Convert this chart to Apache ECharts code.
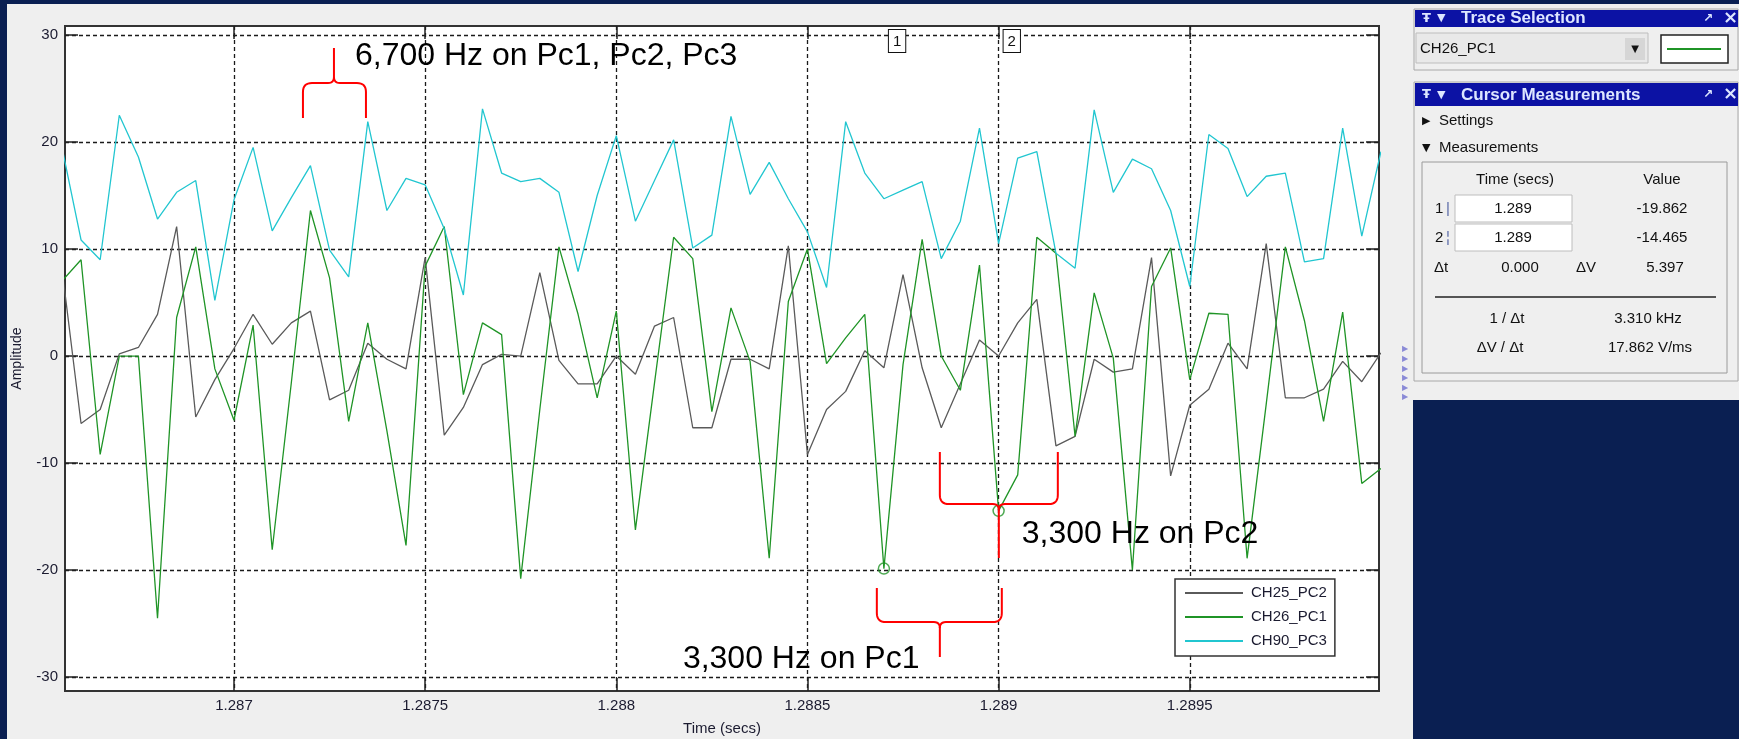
<!DOCTYPE html>
<html><head><meta charset="utf-8">
<script src="https://cdn.jsdelivr.net/npm/echarts@6/dist/echarts.min.js"></script>
<style>
html,body{margin:0;padding:0;width:1739px;height:739px;overflow:hidden;background:#0a1f52;}
#bgMain{position:absolute;left:7px;top:4px;width:1406px;height:735px;background:#efefef;}
#bgSide{position:absolute;left:1413px;top:4px;width:326px;height:396px;background:#efefef;}
#chart{position:absolute;left:0;top:0;width:1739px;height:739px;}
</style></head><body>
<div id="bgMain"></div><div id="bgSide"></div><div id="chart"></div>
<script>
// ---- data ----
const T0 = 1.28655;      // time of first sample (s)
const DT = 0.00005;      // sample spacing (s)
const seriesNames = ['CH25_PC2', 'CH26_PC1', 'CH90_PC3'];
const seriesColors = ['#5a5a5a', '#1f9426', '#21c6d0'];
const ch25 = [8.2,-6.3,-5.0,0.2,0.8,3.9,12.1,-5.7,-2.2,0.7,3.9,1.1,3.1,4.2,-4.1,-3.2,1.2,-0.3,-1.2,9.2,-7.4,-4.8,-0.8,0.15,0.0,7.8,-0.4,-2.6,-2.6,0.0,-1.7,2.8,3.6,-6.7,-6.7,-0.3,-0.3,-1.2,10.3,-9.2,-5.0,-3.3,0.5,-1.1,7.6,-1.1,-6.7,-2.6,1.5,0.0,3.1,5.3,-8.4,-7.5,-0.3,-1.5,-1.2,9.2,-11.2,-4.6,-3.1,1.2,-1.2,10.5,-3.9,-3.9,-3.1,-0.5,-2.4,0.3];
const ch26 = [7.0,9.0,-9.2,0.0,0.0,-24.5,3.6,10.2,-1.2,-6.0,2.9,-18.1,-2.5,13.6,7.3,-6.1,3.1,-7.0,-17.7,8.4,12.1,-3.6,3.1,2.0,-20.8,-5.0,10.2,3.9,-3.9,4.2,-16.25,-2.5,11.1,9.1,-5.2,4.5,-0.5,-18.9,5.1,10.0,-0.7,1.7,3.9,-19.862,-0.8,10.9,0.0,-3.2,8.5,-14.465,-11.1,11.1,9.6,-7.5,5.9,-0.2,-20.0,6.5,10.1,-2.2,4.0,3.9,-18.9,-4.5,10.2,3.3,-6.1,4.1,-11.9,-10.5];
const ch90 = [19.5,10.85,9.0,22.5,18.6,12.8,15.3,16.4,5.2,14.6,19.5,11.7,14.8,17.8,9.9,7.4,21.9,13.6,16.6,16.0,11.9,5.7,23.1,17.1,16.3,16.6,15.3,7.9,15.0,20.6,12.6,16.4,20.2,10.1,11.3,22.4,15.1,18.1,14.7,11.6,6.4,21.9,17.1,14.7,15.5,16.3,9.1,12.6,21.3,10.5,18.5,19.1,9.6,8.2,23.0,15.3,18.4,17.5,13.6,6.5,20.7,19.4,14.9,16.8,17.1,8.8,9.1,21.3,11.2,19.1];
const xTicks = [1.287, 1.2875, 1.288, 1.2885, 1.289, 1.2895];
const xTickLabels = ['1.287', '1.2875', '1.288', '1.2885', '1.289', '1.2895'];
const yTicks = [-30, -20, -10, 0, 10, 20, 30];
const xRange = [1.286558, 1.289995];
const yRange = [-31.3, 30.84];
const cursorTimes = [1.2887, 1.289];
const cursorValues = [-19.862, -14.465];
const cursorLabels = ['1', '2'];
// annotations (data coordinates)
const braces = [
  {x1: 1.2871804, x2: 1.2873452, xc: 1.2872615, yEnd: 22.24, yBar: 25.51, yTip: 28.79},
  {x1: 1.2888463, x2: 1.2891549, xc: 1.2890006, yEnd: -8.97, yBar: -13.83, yTip: -18.88},
  {x1: 1.2886815, x2: 1.2890084, xc: 1.2888463, yEnd: -21.68, yBar: -24.86, yTip: -28.13}
];
const notes = [
  {text: '6,700 Hz on Pc1, Pc2, Pc3', t: 1.2873164, v: 28.04},
  {text: '3,300 Hz on Pc2', t: 1.2890607, v: -16.64},
  {text: '3,300 Hz on Pc1', t: 1.2881742, v: -28.32}
];

const FONT = '"Liberation Sans", Arial, sans-serif';
const TXT = '#1b1b30';
const arrays = [ch25, ch26, ch90];
const toData = arr => arr.map((v, i) => [+(T0 + i * DT).toFixed(5), v]);

const chart = echarts.init(document.getElementById('chart'), null, {renderer: 'canvas'});

const tickStyle = {show: true, inside: true, length: 13, lineStyle: {color: '#222', width: 1.5}};
const splitStyle = {show: true, lineStyle: {color: '#1a1a1a', width: 1.3, type: [4, 3]}};
const noLine = {show: false, onZero: false};

const option = {
  animation: false,
  backgroundColor: 'transparent',
  grid: {left: 65, top: 26, right: 360, bottom: 48, show: true, backgroundColor: '#ffffff',
         borderColor: '#333', borderWidth: 2, containLabel: false, outerBoundsMode: 'none'},
  xAxis: [
    {type: 'value', position: 'bottom', min: xRange[0], max: xRange[1],
     name: 'Time (secs)', nameLocation: 'middle', nameGap: 30,
     nameTextStyle: {fontSize: 15, fontFamily: FONT, color: TXT},
     axisLine: noLine,
     axisTick: Object.assign({customValues: xTicks}, tickStyle),
     axisLabel: {customValues: xTicks, margin: 7, fontSize: 15, fontFamily: FONT, color: TXT,
       formatter: v => { const i = xTicks.findIndex(t => Math.abs(t - v) < 1e-7); return i >= 0 ? xTickLabels[i] : ''; }},
     splitLine: splitStyle},
    {type: 'value', position: 'top', min: xRange[0], max: xRange[1],
     axisLine: noLine,
     axisTick: Object.assign({customValues: xTicks}, tickStyle),
     axisLabel: {show: false}, splitLine: {show: false}}
  ],
  yAxis: [
    {type: 'value', position: 'left', min: yRange[0], max: yRange[1],
     name: 'Amplitude', nameLocation: 'middle', nameGap: 41, nameRotate: 90,
     nameTextStyle: {fontSize: 14, fontFamily: FONT, color: TXT},
     axisLine: noLine,
     axisTick: Object.assign({customValues: yTicks}, tickStyle),
     axisLabel: {customValues: yTicks, margin: 7, fontSize: 15, fontFamily: FONT, color: TXT,
       formatter: v => String(Math.round(v))},
     splitLine: splitStyle},
    {type: 'value', position: 'right', min: yRange[0], max: yRange[1],
     axisLine: noLine,
     axisTick: Object.assign({customValues: yTicks}, tickStyle),
     axisLabel: {show: false}, splitLine: {show: false}}
  ],
  legend: {
    left: 1175, top: 579, orient: 'vertical', data: seriesNames, icon: 'rect',
    itemWidth: 58, itemHeight: 2, itemGap: 8,
    backgroundColor: '#ffffff', borderColor: '#333', borderWidth: 1.5, borderRadius: 0,
    padding: [6, 8, 7, 10],
    textStyle: {fontSize: 15, fontFamily: FONT, color: TXT, lineHeight: 16, padding: [0, 0, 0, 3]},
    selectedMode: false
  },
  series: seriesNames.map((name, i) => ({
    type: 'line', name, data: toData(arrays[i]), showSymbol: false, symbol: 'none',
    color: seriesColors[i], itemStyle: {color: seriesColors[i]},
    lineStyle: {width: 1.3, color: seriesColors[i]}, z: 2 + i,
    emphasis: {disabled: true}, silent: true
  })).concat([{
    type: 'scatter', name: 'cursors', z: 10, silent: true,
    data: cursorTimes.map((t, i) => [t, cursorValues[i]]),
    symbol: 'circle', symbolSize: 11,
    itemStyle: {color: 'rgba(0,0,0,0)', borderColor: '#1f9426', borderWidth: 1.5},
    markLine: {symbol: 'none', silent: true, label: {show: false}, animation: false,
      data: [
        {xAxis: cursorTimes[0], lineStyle: {color: '#333', width: 1.2, type: 'solid'}},
        {xAxis: cursorTimes[1], lineStyle: {color: '#000', width: 2, type: [7, 2]}}
      ]}
  }])
};
chart.setOption(option);

// ---- graphics ----
const P = (t, v) => chart.convertToPixel({gridIndex: 0}, [t, v]);
function quad(p0, p1, p2, n) {
  const pts = [];
  for (let i = 0; i <= n; i++) {
    const s = i / n;
    pts.push([(1-s)*(1-s)*p0[0] + 2*(1-s)*s*p1[0] + s*s*p2[0], (1-s)*(1-s)*p0[1] + 2*(1-s)*s*p1[1] + s*s*p2[1]]);
  }
  return pts;
}
function braceEls(b) {
  const [x1, yE] = P(b.x1, b.yEnd);
  const x2 = P(b.x2, b.yEnd)[0];
  const [xc, yB] = P(b.xc, b.yBar);
  const yT = P(b.xc, b.yTip)[1];
  const s = yE > yB ? 1 : -1;
  const r = 9, r2 = 6;
  const left = [[x1, yE], [x1, yB + s*r]]
    .concat(quad([x1, yB + s*r], [x1, yB], [x1 + r, yB], 8))
    .concat([[xc - r2, yB]])
    .concat(quad([xc - r2, yB], [xc, yB], [xc, yB - s*r2], 6))
    .concat([[xc, yT]]);
  const right = [[xc, yB - s*r2]]
    .concat(quad([xc, yB - s*r2], [xc, yB], [xc + r2, yB], 6))
    .concat([[x2 - r, yB]])
    .concat(quad([x2 - r, yB], [x2, yB], [x2, yB + s*r], 8))
    .concat([[x2, yE]]);
  const st = {stroke: '#ff0000', lineWidth: 2, fill: null};
  return [
    {type: 'polyline', shape: {points: left}, style: st, z: 100, silent: true},
    {type: 'polyline', shape: {points: right}, style: st, z: 100, silent: true}
  ];
}
const T = (text, x, y, o) => ({type: 'text', x, y, z: 50, silent: true,
  style: Object.assign({text, font: '15px ' + FONT, fill: '#111', align: 'left', verticalAlign: 'middle'}, o || {})});
const R = (x, y, w, h, style) => ({type: 'rect', shape: {x, y, width: w, height: h}, style, z: 40, silent: true});
const Ln = (x1, y1, x2, y2, style) => ({type: 'line', shape: {x1, y1, x2, y2}, style, z: 45, silent: true});

let els = [];
braces.forEach(b => { els = els.concat(braceEls(b)); });
notes.forEach(n => {
  const [x, y] = P(n.t, n.v);
  els.push(T(n.text, x, y, {font: '32px ' + FONT, fill: '#000'}));
});
const gridTop = P(cursorTimes[0], yRange[1])[1];
cursorTimes.forEach((t, i) => {
  const x = P(t, 0)[0];
  els.push({type: 'text', x: x + 5, y: gridTop + 4, z: 60, silent: true,
    style: {text: cursorLabels[i], font: '15px ' + FONT, fill: '#111', align: 'left', verticalAlign: 'top',
            backgroundColor: '#fff', borderColor: '#111', borderWidth: 1, padding: [3, 4, 2, 4], lineHeight: 17}});
});

// side panels
const HEAD = '#0c12a4', HEADTXT = '#dde6ff';
els.push(R(1414, 9, 324, 61, {fill: '#efefef', stroke: '#a8a8a8', lineWidth: 1}));
els.push(R(1415, 10, 323, 17, {fill: HEAD}));
els.push(T('Ŧ', 1422, 18.5, {font: 'bold 13px "DejaVu Sans"', fill: HEADTXT}));
els.push(T('▼', 1437, 18.5, {font: '11px "DejaVu Sans"', fill: HEADTXT}));
els.push(T('Trace Selection', 1461, 18.5, {font: 'bold 17px ' + FONT, fill: HEADTXT}));
els.push(T('↗', 1703, 18.5, {font: 'bold 12px "DejaVu Sans"', fill: HEADTXT}));
els.push(T('×', 1723, 18, {font: 'bold 18px "DejaVu Sans"', fill: HEADTXT}));
els.push(R(1416, 33, 232, 30, {fill: '#e9e9e9', stroke: '#bdbdbd', lineWidth: 1}));
els.push(T('CH26_PC1', 1420, 49, {font: '15px ' + FONT, fill: '#111'}));
els.push(R(1625, 38, 20, 22, {fill: '#d6d6d6'}));
els.push(T('▼', 1635, 49, {font: '10px "DejaVu Sans"', fill: '#111', align: 'center'}));
els.push(R(1661, 35, 67, 28, {fill: '#fff', stroke: '#222', lineWidth: 1.5}));
els.push(Ln(1667, 49, 1721, 49, {stroke: '#1f9426', lineWidth: 2}));

els.push(R(1414, 82, 324, 299, {fill: '#efefef', stroke: '#a8a8a8', lineWidth: 1}));
els.push(R(1415, 83, 323, 23, {fill: HEAD}));
els.push(T('Ŧ', 1422, 95, {font: 'bold 13px "DejaVu Sans"', fill: HEADTXT}));
els.push(T('▼', 1437, 95, {font: '11px "DejaVu Sans"', fill: HEADTXT}));
els.push(T('Cursor Measurements', 1461, 95, {font: 'bold 17px ' + FONT, fill: HEADTXT}));
els.push(T('↗', 1703, 95, {font: 'bold 12px "DejaVu Sans"', fill: HEADTXT}));
els.push(T('×', 1723, 94.5, {font: 'bold 18px "DejaVu Sans"', fill: HEADTXT}));
els.push(T('▶', 1422, 121, {font: '11px "DejaVu Sans"', fill: '#111'}));
els.push(T('Settings', 1439, 121));
els.push(T('▼', 1422, 148, {font: '11px "DejaVu Sans"', fill: '#111'}));
els.push(T('Measurements', 1439, 148));
els.push(R(1422, 162, 305, 211, {fill: '#efefef', stroke: '#9a9a9a', lineWidth: 1}));
els.push(T('Time (secs)', 1515, 180, {align: 'center'}));
els.push(T('Value', 1662, 180, {align: 'center'}));
els.push(T('1', 1435, 209));
els.push(T('|', 1446, 209, {fill: '#5a6aa8'}));
els.push(R(1455, 195, 117, 27, {fill: '#fff', stroke: '#bdbdbd', lineWidth: 1}));
els.push(T('1.289', 1513, 209, {align: 'center'}));
els.push(T('-19.862', 1662, 209, {align: 'center'}));
els.push(T('2', 1435, 238));
els.push(T('¦', 1446, 238, {fill: '#5a6aa8'}));
els.push(R(1455, 224, 117, 27, {fill: '#fff', stroke: '#bdbdbd', lineWidth: 1}));
els.push(T('1.289', 1513, 238, {align: 'center'}));
els.push(T('-14.465', 1662, 238, {align: 'center'}));
els.push(T('Δt', 1434, 268));
els.push(T('0.000', 1520, 268, {align: 'center'}));
els.push(T('ΔV', 1576, 268));
els.push(T('5.397', 1665, 268, {align: 'center'}));
els.push(Ln(1435, 297, 1716, 297, {stroke: '#222', lineWidth: 1.5}));
els.push(T('1 / Δt', 1507, 319, {align: 'center'}));
els.push(T('3.310 kHz', 1648, 319, {align: 'center'}));
els.push(T('ΔV / Δt', 1500, 348, {align: 'center'}));
els.push(T('17.862 V/ms', 1650, 348, {align: 'center'}));
[349, 359, 369, 378, 388, 397].forEach(y => els.push(T('▶', 1402, y, {font: '8px "DejaVu Sans"', fill: '#8a8ad6'})));

chart.setOption({graphic: {elements: els}});
</script></body></html>
